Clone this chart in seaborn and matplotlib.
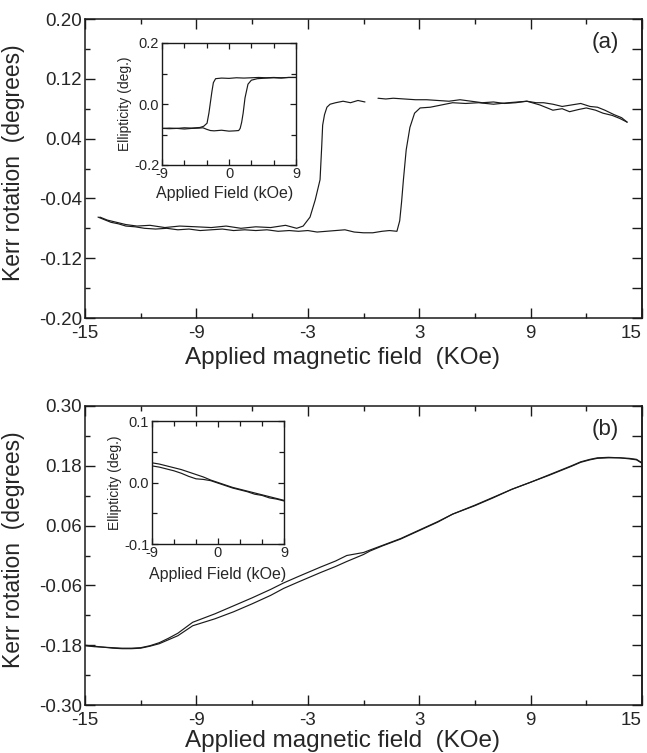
import numpy as np
import pandas as pd
import matplotlib
matplotlib.use("Agg")
import matplotlib.pyplot as plt
from matplotlib.ticker import FixedLocator, FormatStrFormatter
import seaborn as sns

# ---------------- data ----------------
# Panel (a) main: field-up branch
a_up_x = [-14.3, -14.0, -13.6, -13.2, -12.8, -12.3, -11.8, -11.2, -10.6, -10.0,
          -9.4, -8.8, -8.2, -7.6, -7.0, -6.4, -5.8, -5.2, -4.6, -4.0,
          -3.5, -3.0, -2.5, -2.0, -1.5, -1.0, -0.5, 0.0, 0.5, 1.0,
          1.4, 1.8, 1.95, 2.05, 2.15, 2.3, 2.5, 2.75, 3.05, 3.6,
          4.2, 4.8, 5.5, 6.2, 7.0, 7.8, 8.8, 9.5, 10.2, 10.7,
          11.1, 11.6, 12.0, 12.5, 12.9, 13.4, 13.8, 14.2]
a_up_y = [-0.065, -0.068, -0.072, -0.074, -0.077, -0.078, -0.080, -0.081, -0.080, -0.082,
          -0.081, -0.083, -0.082, -0.081, -0.083, -0.082, -0.083, -0.082, -0.084, -0.083,
          -0.084, -0.083, -0.085, -0.084, -0.083, -0.082, -0.085, -0.086, -0.086, -0.084,
          -0.083, -0.084, -0.070, -0.045, -0.015, 0.025, 0.055, 0.074, 0.081, 0.082,
          0.085, 0.088, 0.087, 0.088, 0.086, 0.088, 0.090, 0.085, 0.078, 0.080,
          0.076, 0.079, 0.081, 0.078, 0.074, 0.071, 0.067, 0.062]
# Panel (a) main: field-down branch, right part (before data gap)
a_dn1_x = [14.2, 13.9, 13.5, 13.0, 12.6, 12.2, 11.7, 11.2, 10.7, 10.2,
           9.7, 9.3, 8.8, 8.2, 7.6, 7.0, 6.4, 5.8, 5.2, 4.6,
           4.0, 3.4, 2.8, 2.2, 1.6, 1.2, 0.78]
a_dn1_y = [0.062, 0.068, 0.072, 0.078, 0.082, 0.083, 0.087, 0.085, 0.083, 0.086,
           0.088, 0.088, 0.090, 0.088, 0.087, 0.089, 0.088, 0.090, 0.092, 0.090,
           0.091, 0.092, 0.092, 0.093, 0.094, 0.093, 0.094]
# Panel (a) main: field-down branch, left part (after data gap)
a_dn2_x = [0.08, -0.3, -0.7, -1.1, -1.5, -1.8, -1.97, -2.1, -2.2, -2.25,
           -2.34, -2.6, -2.88, -3.25, -3.6, -4.2, -5.0, -5.8, -6.6, -7.4,
           -8.2, -9.0, -9.9, -10.7, -11.5, -12.2, -12.8, -13.3, -13.8, -14.2]
a_dn2_y = [0.089, 0.091, 0.088, 0.090, 0.088, 0.086, 0.082, 0.072, 0.058, 0.030,
           -0.015, -0.042, -0.065, -0.077, -0.080, -0.076, -0.079, -0.078, -0.080, -0.077,
           -0.079, -0.078, -0.077, -0.079, -0.076, -0.077, -0.075, -0.072, -0.069, -0.065]

# Panel (a) inset: ellipticity loop
ia_up_x = [-9, -8, -7, -6, -5, -4, -3.5, -3, -2.5, -2, -1, 0, 0.8, 1.3, 1.5,
           1.7, 1.9, 2.15, 2.55, 3.0, 3.8, 5, 6, 7, 8, 9]
ia_up_y = [-0.080, -0.081, -0.080, -0.082, -0.080, -0.079, -0.078, -0.083, -0.087, -0.088,
           -0.086, -0.089, -0.088, -0.087, -0.080, -0.060, -0.030, 0.020, 0.065, 0.078,
           0.083, 0.085, 0.086, 0.085, 0.087, 0.087]
ia_dn_x = [9, 8, 7, 6, 5, 4, 3, 2, 1, 0, -1, -1.8, -2.1, -2.3, -2.5,
           -2.7, -2.95, -3.4, -3.9, -5, -6, -7, -8, -9]
ia_dn_y = [0.087, 0.087, 0.086, 0.087, 0.086, 0.087, 0.086, 0.085, 0.086, 0.084,
           0.085, 0.083, 0.070, 0.040, 0.005, -0.030, -0.063, -0.073, -0.077, -0.079,
           -0.078, -0.080, -0.079, -0.080]

# Panel (b) main: two nearly overlapping branches
b_x = [-15, -14.5, -14, -13.5, -13, -12.5, -12, -11.5, -11, -10.5,
       -10, -9.2, -8, -7, -6, -5, -4.3, -3.5, -2.3, -1.5,
       -0.9, 0, 0.35, 1, 2, 3, 4, 4.8, 6, 7,
       8, 9, 10, 10.6, 11.2, 11.7, 12.2, 12.6, 13.2, 13.8,
       14.3, 14.7, 15]
b_y1 = [-0.180, -0.182, -0.184, -0.185, -0.186, -0.186, -0.185, -0.181, -0.175, -0.166,
        -0.156, -0.134, -0.117, -0.101, -0.085, -0.068, -0.055, -0.042, -0.023, -0.011,
        0.000, 0.006, 0.011, 0.020, 0.034, 0.051, 0.068, 0.083, 0.101, 0.117,
        0.133, 0.147, 0.162, 0.171, 0.180, 0.188, 0.193, 0.196, 0.197, 0.196,
        0.195, 0.193, 0.186]
b_y2 = [-0.181, -0.183, -0.184, -0.186, -0.187, -0.187, -0.186, -0.182, -0.177, -0.169,
        -0.161, -0.141, -0.127, -0.113, -0.097, -0.080, -0.066, -0.053, -0.034, -0.022,
        -0.012, 0.002, 0.009, 0.019, 0.033, 0.050, 0.067, 0.083, 0.100, 0.116,
        0.133, 0.147, 0.161, 0.170, 0.179, 0.187, 0.192, 0.195, 0.196, 0.196,
        0.194, 0.192, 0.185]

# Panel (b) inset
ib_x = [-9, -8, -7, -6, -5, -4, -3, -2, -1, 0, 1, 2, 3, 4, 5, 6, 7, 8, 9]
ib_y1 = [0.032, 0.030, 0.027, 0.024, 0.021, 0.017, 0.013, 0.009, 0.004, 0.000,
         -0.004, -0.008, -0.011, -0.014, -0.017, -0.020, -0.023, -0.026, -0.029]
ib_y2 = [0.027, 0.025, 0.022, 0.019, 0.015, 0.010, 0.006, 0.005, 0.003, -0.001,
         -0.005, -0.009, -0.012, -0.015, -0.019, -0.021, -0.025, -0.027, -0.030]

main_xticks = [-15, -9, -3, 3, 9, 15]
main_xminor = [-12, -6, 0, 6, 12]
a_yticks = [-0.20, -0.12, -0.04, 0.04, 0.12, 0.20]
a_yminor = [-0.16, -0.08, 0.0, 0.08, 0.16]
b_yticks = [-0.30, -0.18, -0.06, 0.06, 0.18, 0.30]
b_yminor = [-0.24, -0.12, 0.0, 0.12, 0.24]

xlabel = "Applied magnetic field  (KOe)"
ylabel = "Kerr rotation  (degrees)"
ins_xlabel = "Applied Field (kOe)"
ins_ylabel = "Ellipticity (deg.)"


def frame(segments):
    rows = []
    for k, (xs, ys) in enumerate(segments):
        for i, (xv, yv) in enumerate(zip(xs, ys)):
            rows.append({"field": xv, "val": yv, "seg": k, "order": i})
    return pd.DataFrame(rows)


df_a = frame([(a_up_x, a_up_y), (a_dn1_x, a_dn1_y), (a_dn2_x, a_dn2_y)])
df_ia = frame([(ia_up_x, ia_up_y), (ia_dn_x, ia_dn_y)])
df_b = frame([(b_x, b_y1), (b_x, b_y2)])
df_ib = frame([(ib_x, ib_y1), (ib_x, ib_y2)])

# ---------------- style ----------------
sns.set_theme(style="ticks")
plt.rcParams["font.family"] = ["Liberation Sans", "DejaVu Sans"]
plt.rcParams["axes.unicode_minus"] = False
plt.rcParams["axes.linewidth"] = 1.1
LC = "#1a1a1a"

W, H = 647, 753
fig = plt.figure(figsize=(W / 100, H / 100), dpi=100)


def fax(x0, y0, x1, y1):
    return fig.add_axes([x0 / W, 1 - y1 / H, (x1 - x0) / W, (y1 - y0) / H])


def draw(ax, df):
    sns.lineplot(data=df, x="field", y="val", units="seg", estimator=None,
                 sort=False, color=LC, lw=0.85, ax=ax, legend=False)


def style_main(ax, yt, ym, ylim, yfmt, panel):
    ax.set_xlim(-15, 15)
    ax.set_ylim(*ylim)
    ax.xaxis.set_major_locator(FixedLocator(main_xticks))
    ax.xaxis.set_minor_locator(FixedLocator(main_xminor))
    ax.yaxis.set_major_locator(FixedLocator(yt))
    ax.yaxis.set_minor_locator(FixedLocator(ym))
    ax.xaxis.set_major_formatter(FormatStrFormatter("%d"))
    ax.yaxis.set_major_formatter(FormatStrFormatter(yfmt))
    ax.tick_params(which="both", direction="in", top=True, right=False,
                   color=LC, width=1.0)
    ax.tick_params(which="major", length=7)
    ax.tick_params(which="minor", length=3.5)
    ax.tick_params(axis="x", which="major", labelsize=13.5, pad=5)
    ax.tick_params(axis="y", which="major", labelsize=13.5, pad=2)
    sec = ax.secondary_yaxis("right")
    sec.yaxis.set_major_locator(FixedLocator(sorted(yt + ym)))
    sec.tick_params(direction="in", length=7, labelright=False, color=LC, width=1.0)
    for s in ax.spines.values():
        s.set_color(LC)
    sec.spines["right"].set_color(LC)
    ax.set_xlabel(xlabel, fontsize=17.5)
    ax.set_ylabel(ylabel, fontsize=16.5)
    ax.text(0.934, 0.92, panel, transform=ax.transAxes, fontsize=16,
            ha="center", va="center")
    ax.get_xticklabels()[-1].set_horizontalalignment("right")


def style_inset(ax, yt, ym, ylim):
    ax.set_xlim(-9, 9)
    ax.set_ylim(*ylim)
    ax.xaxis.set_major_locator(FixedLocator([-9, 0, 9]))
    ax.xaxis.set_minor_locator(FixedLocator([-6, -3, 3, 6]))
    ax.yaxis.set_major_locator(FixedLocator(yt))
    ax.yaxis.set_minor_locator(FixedLocator(ym))
    ax.xaxis.set_major_formatter(FormatStrFormatter("%d"))
    ax.yaxis.set_major_formatter(FormatStrFormatter("%.1f"))
    ax.tick_params(which="both", direction="in", top=True, right=True,
                   color=LC, width=0.9, labelsize=10.5)
    ax.tick_params(axis="x", pad=1.5)
    ax.tick_params(axis="y", pad=2)
    ax.tick_params(which="major", length=4.5)
    ax.tick_params(which="minor", length=3.5)
    for s in ax.spines.values():
        s.set_color(LC)
        s.set_linewidth(1.0)


# ---------------- panel (a) ----------------
ax1 = fax(85, 19, 642, 318)
draw(ax1, df_a)
style_main(ax1, a_yticks, a_yminor, (-0.20, 0.20), "%.2f", "(a)")
ax1.yaxis.set_label_coords(-0.108, 0.52)
ax1.xaxis.set_label_coords(0.463, -0.098)

ia = fax(162, 43, 296, 165)
draw(ia, df_ia)
style_inset(ia, [-0.2, 0.0, 0.2], [-0.1, 0.1], (-0.2, 0.2))
ia.set_xlabel(ins_xlabel, fontsize=11.5)
ia.set_ylabel(ins_ylabel, fontsize=10)
ia.xaxis.set_label_coords(0.47, -0.17)
ia.yaxis.set_label_coords(-0.225, 0.5)

# ---------------- panel (b) ----------------
ax2 = fax(85, 406, 642, 705)
draw(ax2, df_b)
style_main(ax2, b_yticks, b_yminor, (-0.30, 0.30), "%.2f", "(b)")
ax2.yaxis.set_label_coords(-0.108, 0.52)
ax2.xaxis.set_label_coords(0.463, -0.085)

ib = fax(152, 421, 284, 544)
draw(ib, df_ib)
style_inset(ib, [-0.1, 0.0, 0.1], [-0.05, 0.05], (-0.1, 0.1))
ib.set_xlabel(ins_xlabel, fontsize=11.5)
ib.set_ylabel(ins_ylabel, fontsize=10)
ib.xaxis.set_label_coords(0.5, -0.19)
ib.yaxis.set_label_coords(-0.227, 0.5)

fig.savefig("out.png", dpi=100)
